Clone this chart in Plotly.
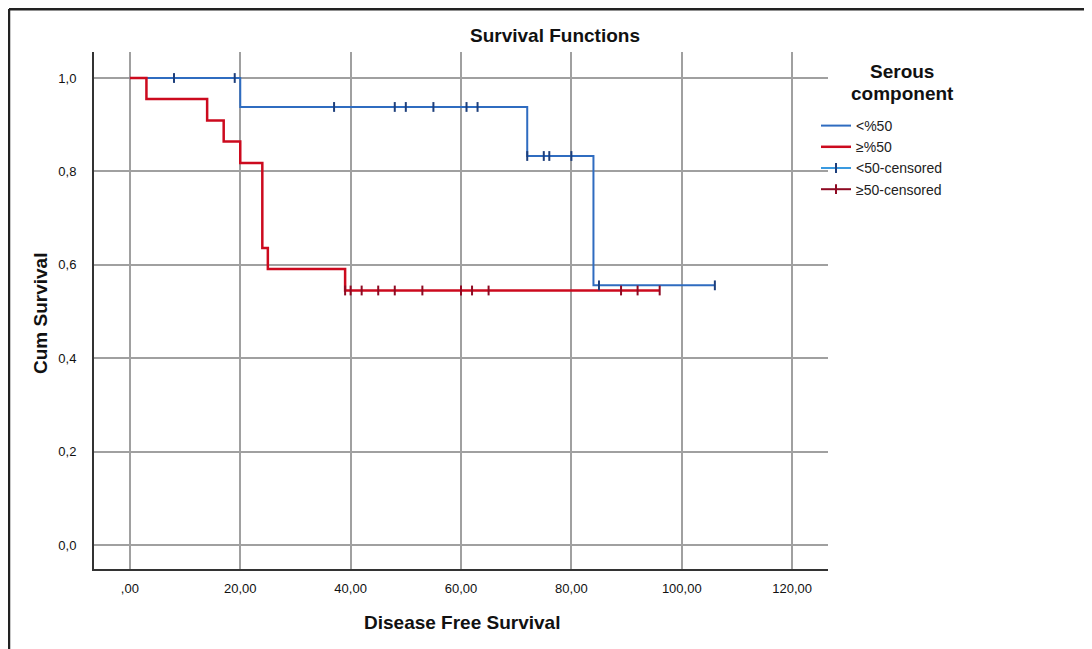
import plotly.graph_objects as go

# ---- data ----
lt50_times = [0, 20, 72, 84, 106]
lt50_surv = [1.0, 0.938, 0.833, 0.556, 0.556]
ge50_times = [0, 3, 14, 17, 20, 24, 25, 39, 96]
ge50_surv = [1.0, 0.955, 0.909, 0.864, 0.818, 0.636, 0.591, 0.545, 0.545]

lt50_cens_t = [8, 19, 37, 48, 50, 55, 61, 63, 72, 75, 76, 80, 85, 106]
lt50_cens_s = [1.0, 1.0, 0.938, 0.938, 0.938, 0.938, 0.938, 0.938,
               0.833, 0.833, 0.833, 0.833, 0.556, 0.556]
ge50_cens_t = [39, 40, 42, 45, 48, 53, 60, 62, 65, 89, 92, 96]
ge50_cens_s = [0.545] * 12

x_ticks = [0, 20, 40, 60, 80, 100, 120]
x_ticktext = [",00", "20,00", "40,00", "60,00", "80,00", "100,00", "120,00"]
y_ticks = [0.0, 0.2, 0.4, 0.6, 0.8, 1.0]
y_ticktext = ["0,0", "0,2", "0,4", "0,6", "0,8", "1,0"]

series_names = ["<%50", "≥%50", "<50-censored", "≥50-censored"]

BLUE = "#2f6cc0"
BLUE_LIGHT = "#3a9ae0"
NAVY = "#1d3f7c"
RED = "#cc0a1e"
DARKRED = "#8e0a22"

FONT = "Liberation Sans, Arial, sans-serif"

# page is rendered with an 8px body margin; the figure is sized to fit the window
OFF = 8
W, H = 1092 - OFF, 649 - OFF
PL, PR, PT, PB = 94, 828, 52, 569  # plot area in page pixels


def px(p):
    return (p - PL) / (PR - PL)


def py(p):
    return (PB - p) / (PB - PT)


def with_gaps(vals):
    out = []
    for v in vals:
        out += [v, None]
    return out


fig = go.Figure()
fig.add_trace(go.Scatter(x=lt50_times, y=lt50_surv, mode="lines", line_shape="hv",
                         line=dict(color=BLUE, width=2), name=series_names[0]))
fig.add_trace(go.Scatter(x=ge50_times, y=ge50_surv, mode="lines", line_shape="hv",
                         line=dict(color=RED, width=2.5), name=series_names[1]))
fig.add_trace(go.Scatter(x=with_gaps(lt50_cens_t), y=with_gaps(lt50_cens_s),
                         mode="lines+markers", line=dict(color=BLUE_LIGHT, width=2),
                         marker=dict(symbol="line-ns", size=7,
                                     line=dict(color=NAVY, width=2)),
                         name=series_names[2]))
fig.add_trace(go.Scatter(x=with_gaps(ge50_cens_t), y=with_gaps(ge50_cens_s),
                         mode="lines+markers", line=dict(color=DARKRED, width=2),
                         marker=dict(symbol="line-ns", size=7,
                                     line=dict(color=DARKRED, width=2)),
                         name=series_names[3]))

fig.update_layout(
    width=W, height=H,
    margin=dict(l=PL - OFF, r=W - (PR - OFF), t=PT - OFF, b=H - (PB - OFF)),
    paper_bgcolor="white", plot_bgcolor="white",
    font=dict(family=FONT, color="#222"),
    title=dict(text="<b>Survival Functions</b>", x=(555 - OFF) / W, xanchor="center",
               y=1 - (35 - OFF) / H, yanchor="middle", xref="container", yref="container",
               font=dict(size=19, family=FONT, color="#111")),
    showlegend=True,
    legend=dict(x=px(816), xanchor="left", y=py(110), yanchor="top",
                font=dict(size=14, family=FONT, color="#222"),
                bgcolor="rgba(0,0,0,0)", itemwidth=30, tracegroupgap=0),
    xaxis=dict(range=[-6.5, 126.5], tickvals=x_ticks, ticktext=x_ticktext,
               showgrid=True, gridcolor="#a0a0a0", gridwidth=1.5,
               showline=True, linecolor="#333", linewidth=2, zeroline=False,
               ticks="", ticklabelstandoff=6,
               tickfont=dict(size=13, family=FONT, color="#111")),
    yaxis=dict(range=[-0.0514, 1.0557], tickvals=y_ticks, ticktext=y_ticktext,
               showgrid=True, gridcolor="#a0a0a0", gridwidth=1.5,
               showline=True, linecolor="#333", linewidth=2, zeroline=False,
               ticks="", ticklabelstandoff=13,
               tickfont=dict(size=13, family=FONT, color="#111")),
    annotations=[
        dict(text="<b>Disease Free Survival</b>", xref="paper", yref="paper",
             x=px(462), y=py(622), xanchor="center", yanchor="middle",
             showarrow=False, font=dict(size=19, family=FONT, color="#111")),
        dict(text="<b>Cum Survival</b>", xref="paper", yref="paper",
             x=px(40), y=py(314), xanchor="center", yanchor="middle",
             textangle=-90, showarrow=False, font=dict(size=19, family=FONT, color="#111")),
        dict(text="<b>Serous</b>", xref="paper", yref="paper",
             x=px(902), y=py(72), xanchor="center", yanchor="middle",
             showarrow=False, font=dict(size=19, family=FONT, color="#111")),
        dict(text="<b>component</b>", xref="paper", yref="paper",
             x=px(902), y=py(93), xanchor="center", yanchor="middle",
             showarrow=False, font=dict(size=19, family=FONT, color="#111")),
    ],
    shapes=[
        dict(type="line", xref="paper", yref="paper",
             x0=px(9), x1=px(9), y0=py(9), y1=py(700),
             line=dict(color="#222", width=2.5)),
        dict(type="line", xref="paper", yref="paper",
             x0=px(9), x1=px(1200), y0=py(9), y1=py(9),
             line=dict(color="#222", width=3)),
    ],
)

fig.write_html("out.html")
